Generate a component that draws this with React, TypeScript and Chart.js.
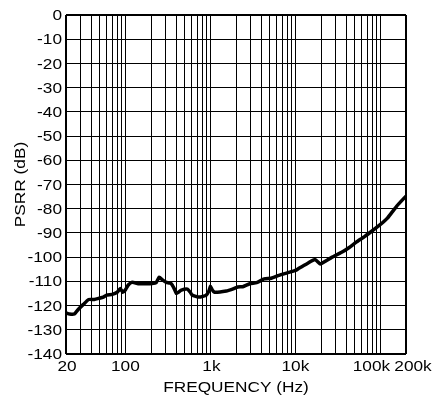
import React, { useEffect, useRef } from "react";
import { Chart, registerables } from "chart.js";

Chart.register(...registerables);

const FREQ_HZ = [
  20, 22, 25, 28, 32, 37, 43, 49, 55, 60, 70, 80, 87, 93, 100, 108, 120, 145, 175, 206,
  230, 250, 275, 303, 346, 375, 397, 420, 455, 535, 580, 610, 740, 890, 960, 1000, 1050,
  1110, 1540, 1820, 2100, 2400, 2900, 3500, 4300, 5200, 6400, 8000, 10000, 11000, 14000, 17000,
  19600, 23000, 27000, 35000, 43000, 52000, 65000, 81000, 100000, 120000, 155000, 200000,
];
const PSRR_DB = [
  -123, -123.5, -123.5, -121.5, -119.5, -117.5, -117.5, -117, -116.5, -115.7, -115.4, -114.5,
  -113, -114.5, -113.5, -111.5, -110.4, -111, -111, -110.9, -110.5, -108.3, -109.5, -110.4,
  -110.9, -113, -115, -114.5, -113.6, -113.2, -114.5, -115.7, -116.5, -115.7, -114, -112,
  -113.5, -114.5, -114, -113.2, -112.3, -112.2, -111, -110.5, -109, -108.7, -107.5, -106.5, -105.5,
  -104.6, -102.5, -101, -102.8, -101.5, -100, -98, -96, -93.8, -91.5, -89, -86.5, -84, -79,
  -74.8,
];

const X_MIN = 20;
const X_MAX = 200000;
const Y_MIN = -140;
const Y_MAX = 0;
const Y_STEP = 10;

const X_LABEL_VALUES = [20, 100, 1000, 10000, 100000, 200000];
const X_LABEL_TEXT = ["20", "100", "1k", "10k", "100k", "200k"];
const X_LABEL_SHIFT = [1, 0, 1, 0, -9, 7];

const X_TITLE = "FREQUENCY (Hz)";
const Y_TITLE = "PSRR (dB)";

const GRID_FREQS: number[] = [];
for (const dec of [10, 100, 1000, 10000, 100000]) {
  for (let m = 1; m <= 9; m++) {
    const v = dec * m;
    if (v >= X_MIN && v <= X_MAX) GRID_FREQS.push(v);
  }
}

const FONT = '15px "Liberation Sans", Arial, sans-serif';
const SX = 1.15;

function drawText(ctx: CanvasRenderingContext2D, text: string, x: number, y: number, align: CanvasTextAlign, rotate = 0) {
  ctx.save();
  ctx.translate(x, y);
  if (rotate) ctx.rotate(rotate);
  ctx.scale(SX, 1);
  ctx.textAlign = align;
  ctx.textBaseline = "middle";
  ctx.fillText(text, 0, 0);
  ctx.restore();
}

const labelsPlugin = {
  id: "customLabels",
  afterDraw(chart: any) {
    const ctx = chart.ctx as CanvasRenderingContext2D;
    const xs = chart.scales.x;
    const ys = chart.scales.y;
    const area = chart.chartArea;
    ctx.save();
    ctx.fillStyle = "#000";
    ctx.font = FONT;
    for (let v = Y_MIN; v <= Y_MAX; v += Y_STEP) {
      drawText(ctx, String(v), area.left - 4, ys.getPixelForValue(v) + 1, "right");
    }
    X_LABEL_VALUES.forEach((v, i) => {
      drawText(ctx, X_LABEL_TEXT[i], xs.getPixelForValue(v) + X_LABEL_SHIFT[i], area.bottom + 13, "center");
    });
    drawText(ctx, X_TITLE, (area.left + area.right) / 2, area.bottom + 34, "center");
    drawText(ctx, Y_TITLE, 21, (area.top + area.bottom) / 2, "center", -Math.PI / 2);
    ctx.restore();
  },
};

export default function App() {
  const ref = useRef<HTMLCanvasElement | null>(null);
  useEffect(() => {
    document.body.style.margin = "0";
    const canvas = ref.current!;
    const chart = new Chart(canvas, {
      type: "line",
      data: {
        datasets: [
          {
            data: FREQ_HZ.map((f, i) => ({ x: f, y: PSRR_DB[i] })),
            borderColor: "#000",
            borderWidth: 3.5,
            pointRadius: 0,
            tension: 0.15,
            borderJoinStyle: "round",
            borderCapStyle: "round",
          },
        ],
      },
      options: {
        responsive: false,
        animation: false,
        events: [],
        layout: { padding: { left: 66, top: 15, right: 27, bottom: 47 } },
        plugins: { legend: { display: false }, tooltip: { enabled: false } },
        scales: {
          x: {
            type: "logarithmic",
            min: X_MIN,
            max: X_MAX,
            afterBuildTicks: (scale: any) => {
              scale.ticks = GRID_FREQS.map((v) => ({ value: v }));
            },
            ticks: { display: false },
            border: { display: false },
            grid: {
              drawTicks: false,
              color: "#000",
              lineWidth: (c: any) => (c.tick && (c.tick.value === X_MIN || c.tick.value === X_MAX) ? 2 : 1),
            },
          },
          y: {
            min: Y_MIN,
            max: Y_MAX,
            ticks: { display: false, stepSize: Y_STEP },
            border: { display: false },
            grid: {
              drawTicks: false,
              color: "#000",
              lineWidth: (c: any) => (c.tick && (c.tick.value === Y_MIN || c.tick.value === Y_MAX) ? 2 : 1),
            },
          },
        },
      },
      plugins: [labelsPlugin],
    });
    return () => chart.destroy();
  }, []);
  return (
    <div style={{ width: 433, height: 401, background: "#fff" }}>
      <canvas ref={ref} width={433} height={401} style={{ display: "block" }} />
    </div>
  );
}
